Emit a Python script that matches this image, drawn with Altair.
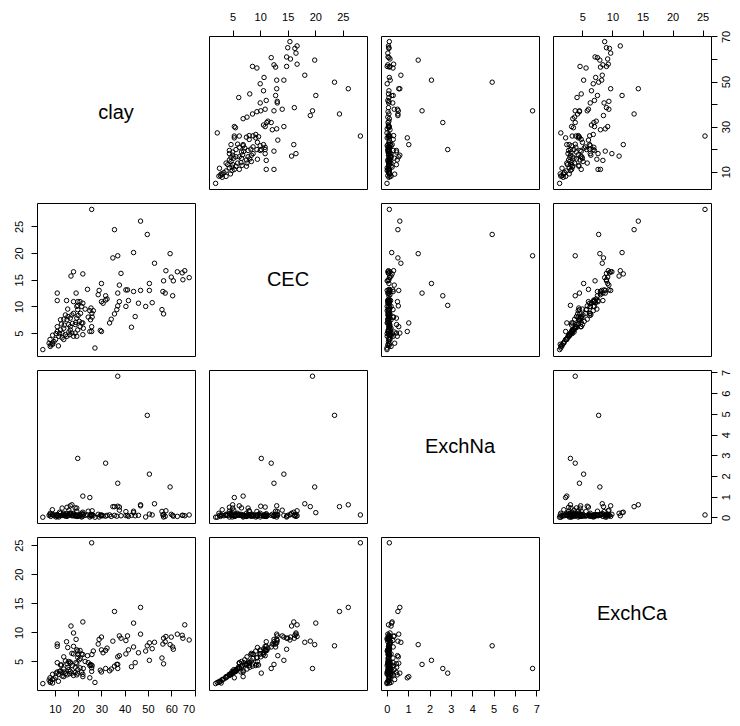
import altair as alt
import pandas as pd

# ---- data (one entry per soil sample) ----
clay = [25.8, 46.8, 35.6, 49.7, 37.0, 34.9, 43.8, 59.5, 52.8, 57.7,
        62.6, 64.7, 65.8, 67.7, 60.9, 56.7, 50.6, 50.6, 46.8, 43.8,
        40.5, 41.2, 37.7, 38.4, 30.0, 29.0, 28.6, 31.8, 32.4, 30.7,
        30.0, 37.0, 37.7, 37.0, 41.6, 40.5, 45.9, 49.0, 51.8, 56.0,
        56.7, 44.5, 42.9, 36.6, 35.6, 34.2, 33.5, 31.8, 19.8, 30.0,
        27.2, 60.0, 65.0, 60.6, 57.4, 56.4,
        18.0, 16.9, 22.0, 11.0, 11.0, 15.0, 19.1, 19.8, 24.0, 18.0,
        20.8, 22.0, 19.4, 21.5, 19.8, 25.5, 26.5, 25.0, 25.9, 24.3,
        25.3, 18.0, 16.6, 15.2, 13.8, 12.4, 15.6, 17.3, 14.5, 19.4,
        20.5, 18.7, 20.8, 19.8, 21.5, 22.2, 15.9, 13.8, 12.4, 11.0,
        11.0, 13.1, 14.5, 16.6, 16.6, 17.3, 18.0, 15.2, 13.1, 11.7,
        10.3, 9.6, 8.2, 7.5, 7.9, 4.8, 8.9, 13.8, 16.3, 18.7,
        19.4, 25.8, 25.8, 29.5, 22.0, 25.0, 8.0, 9.0, 12.0, 14.0,
        17.5, 19.0, 20.0, 16.0, 12.8, 10.5, 23.0, 9.0, 15.5, 26.0,
        21.0, 11.5, 22.0]

cec = [28.2, 26.0, 24.4, 23.5, 19.5, 19.1, 20.1, 19.9, 18.1, 16.7,
       16.5, 16.3, 16.7, 15.4, 14.8, 14.8, 14.3, 13.0, 13.0, 12.8,
       13.1, 13.1, 14.0, 16.2, 14.3, 13.0, 12.2, 11.2, 11.4, 10.6,
       10.9, 12.5, 10.9, 10.1, 11.1, 10.0, 10.6, 10.0, 10.7, 9.4,
       8.6, 8.1, 6.1, 9.4, 8.6, 7.6, 6.9, 12.0, 10.2, 5.3,
       2.2, 15.5, 15.0, 12.0, 12.5, 12.8,
       16.5, 15.7, 16.1, 12.5, 11.1, 11.1, 12.5, 10.9, 13.2, 10.9,
       10.9, 10.6, 10.0, 10.0, 9.4, 9.7, 9.2, 9.2, 8.7, 8.0,
       7.5, 8.7, 7.8, 7.5, 7.6, 7.5, 8.1, 8.4, 8.4, 7.8,
       7.2, 6.6, 6.2, 5.6, 6.9, 5.9, 6.6, 5.9, 5.6, 6.2,
       5.3, 5.0, 4.7, 6.2, 5.6, 5.0, 4.4, 4.4, 4.1, 4.4,
       3.8, 3.4, 2.8, 3.1, 3.8, 1.9, 3.1, 3.8, 4.7, 5.0,
       4.4, 6.2, 5.3, 5.5, 6.9, 5.3, 2.5, 2.9, 4.9, 6.5,
       6.8, 7.0, 8.3, 5.2, 6.7, 4.9, 9.5, 4.6, 9.5, 8.0,
       8.7, 2.6, 4.7]

exchna = [0.12, 0.61, 0.52, 4.93, 6.82, 0.52, 0.23, 1.47, 0.66, 0.32,
          0.05, 0.10, 0.08, 0.12, 0.06, 0.02, 2.09, 0.16, 0.56, 0.30,
          0.28, 0.10, 0.35, 0.08, 0.10, 0.02, 0.15, 0.06, 0.10, 0.08,
          0.12, 1.65, 0.50, 0.54, 0.05, 0.09, 0.10, 0.02, 0.12, 0.29,
          0.15, 0.08, 0.10, 0.06, 0.10, 0.05, 0.12, 2.62, 2.85, 0.08,
          0.01, 0.15, 0.10, 0.10, 0.05, 0.12,
          0.15, 0.20, 0.25, 0.10, 0.12, 0.18, 0.10, 0.05, 0.12, 0.08,
          0.10, 0.06, 0.12, 0.20, 0.08, 0.15, 0.10, 0.02, 0.12, 0.30,
          0.08, 0.10, 0.15, 0.05, 0.10, 0.20, 0.12, 0.08, 0.06, 0.45,
          0.10, 0.46, 0.12, 0.08, 0.02, 0.15, 0.10, 0.20, 0.08, 0.12,
          0.05, 0.45, 0.10, 0.56, 0.15, 0.61, 0.20, 0.49, 0.10, 0.02,
          0.12, 0.08, 0.05, 0.10, 0.15, 0.01, 0.37, 0.10, 0.20, 0.10,
          0.30, 0.12, 0.08, 0.10, 1.03, 0.96, 0.20, 0.12, 0.25, 0.15,
          0.10, 0.05, 0.08, 0.35, 0.10, 0.02, 0.10, 0.15, 0.12, 0.32,
          0.06, 0.10, 0.15]

exchca = [25.4, 14.3, 13.6, 7.7, 3.8, 8.5, 11.6, 7.9, 8.3, 9.3,
          9.7, 9.5, 11.3, 8.7, 7.1, 9.0, 5.2, 8.2, 9.7, 7.5,
          8.6, 9.4, 9.4, 9.0, 9.2, 8.8, 8.0, 6.9, 7.3, 6.5,
          7.0, 4.5, 6.0, 5.8, 7.0, 6.3, 6.5, 6.8, 7.2, 5.6,
          4.6, 4.8, 4.1, 4.5, 4.2, 3.7, 3.4, 3.8, 3.0, 3.2,
          1.4, 9.2, 9.0, 7.5, 8.4, 8.0,
          9.9, 11.1, 11.8, 8.0, 7.6, 8.4, 8.8, 6.8, 6.0, 7.6,
          6.9, 6.2, 7.0, 6.3, 5.7, 4.4, 6.8, 4.3, 6.2, 4.8,
          4.5, 6.3, 4.9, 4.6, 5.8, 4.4, 4.0, 6.4, 5.1, 4.6,
          5.3, 4.0, 3.9, 3.6, 3.2, 3.8, 5.0, 3.7, 3.4, 4.8,
          3.2, 3.1, 2.9, 4.7, 3.3, 3.0, 2.6, 2.7, 2.5, 2.8,
          2.3, 2.0, 1.6, 1.8, 2.2, 1.2, 1.9, 2.4, 2.9, 3.1,
          2.7, 3.9, 3.3, 3.5, 2.4, 2.2, 1.4, 1.3, 3.3, 3.2,
          4.3, 4.8, 6.2, 3.6, 4.4, 3.0, 5.0, 2.8, 7.4, 4.3,
          5.5, 1.6, 2.8]

names = ["clay", "CEC", "ExchNa", "ExchCa"]
domains = {"clay": [2.3, 70.2], "CEC": [0.7, 29.4],
           "ExchNa": [-0.27, 7.12], "ExchCa": [0.1, 26.4]}
tick_values = {"clay": [10, 20, 30, 40, 50, 60, 70],
               "CEC": [5, 10, 15, 20, 25],
               "ExchNa": [0, 1, 2, 3, 4, 5, 6, 7],
               "ExchCa": [5, 10, 15, 20, 25]}

df = pd.DataFrame({"clay": clay, "CEC": cec, "ExchNa": exchna, "ExchCa": exchca})

W, H = 158, 153
FONT = "Liberation Sans"


def x_axis(row, col, var):
    if row == 0 and col in (1, 3):
        return alt.Axis(orient="top", values=tick_values[var], title=None,
                        labelAngle=0, labelPadding=8)
    if row == 3 and col in (0, 2):
        return alt.Axis(orient="bottom", values=tick_values[var], title=None,
                        labelAngle=0, labelPadding=7)
    return None


def y_axis(row, col, var):
    expr = "datum.value % 20 == 10 ? datum.label : ''" if var == "clay" else "datum.label"
    if col == 0 and row in (1, 3):
        return alt.Axis(orient="left", values=tick_values[var], title=None,
                        labelAngle=-90, labelAlign="center", labelBaseline="bottom",
                        labelPadding=7, labelExpr=expr)
    if col == 3 and row in (0, 2):
        return alt.Axis(orient="right", values=tick_values[var], title=None,
                        labelAngle=-90, labelAlign="center", labelBaseline="top",
                        labelPadding=3, labelExpr=expr)
    return None


panels = []
for i, yv in enumerate(names):
    for j, xv in enumerate(names):
        if i == j:
            p = alt.Chart(pd.DataFrame({"t": [yv]})).mark_text(
                fontSize=20, font=FONT, color="black"
            ).encode(text="t:N").properties(width=W, height=H)
        else:
            xa = x_axis(i, j, xv)
            ya = y_axis(i, j, yv)
            p = alt.Chart(df).mark_point(
                shape="circle", filled=False, color="black", opacity=1,
                size=20, strokeWidth=1
            ).encode(
                x=alt.X(f"{xv}:Q", scale=alt.Scale(domain=domains[xv], nice=False, zero=False),
                        axis=xa),
                y=alt.Y(f"{yv}:Q", scale=alt.Scale(domain=domains[yv], nice=False, zero=False),
                        axis=ya),
            ).properties(width=W, height=H)
        panels.append(p)

chart = alt.concat(*panels, columns=4, spacing={"row": 14, "column": 14},
                   bounds="flush").properties(
    padding={"left": 4, "top": 2, "right": 0, "bottom": 0},
    background="white"
).configure_view(
    stroke="black", strokeWidth=1
).configure_axis(
    domain=False, grid=False, tickColor="black", tickSize=6, ticks=True,
    labelColor="black", labelFont=FONT, labelFontSize=11
)

chart.save("out.html", embed_options={"renderer": "svg", "actions": False})
